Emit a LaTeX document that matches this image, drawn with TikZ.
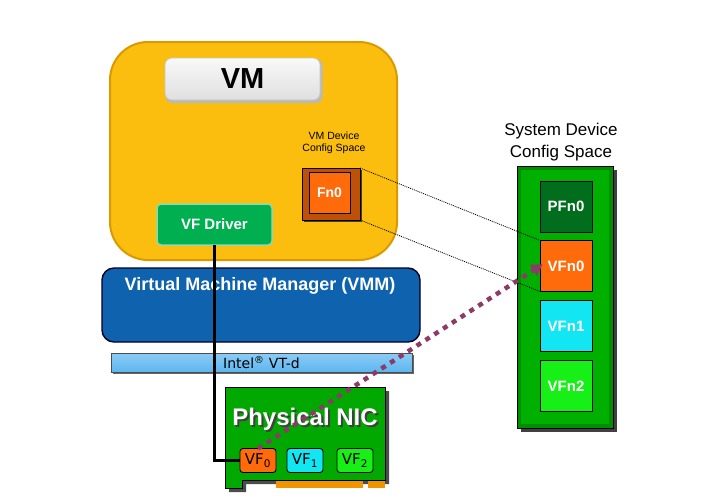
\documentclass[tikz,border=0pt]{standalone}
\usepackage{fontspec}
\setmainfont{Liberation Sans}
\newfontfamily\dv{DejaVu Sans}
\usetikzlibrary{arrows.meta,shadows}
\definecolor{vmyellow}{HTML}{FBBE0E}
\definecolor{vmedge}{HTML}{D99A00}
\definecolor{drvgreen}{HTML}{00B050}
\definecolor{fnorange}{HTML}{FF6A0A}
\definecolor{vmmblue}{HTML}{0E62AE}
\definecolor{vtdblue}{HTML}{5CB6F0}
\definecolor{nicgreen}{HTML}{00A800}
\definecolor{connorange}{HTML}{F09400}
\definecolor{colgreen}{HTML}{00B000}
\definecolor{pfgreen}{HTML}{006E1C}
\definecolor{vfcyan}{HTML}{12E6F2}
\definecolor{vflime}{HTML}{16F016}
\definecolor{arrowpurple}{HTML}{8C3A68}
\tikzset{
  box/.style={inner sep=0pt, outer sep=0pt},
  btn/.style={box, draw=black, line width=0.9pt, minimum width=52pt, minimum height=51pt,
     text=white, font=\fontsize{15}{15}\selectfont\bfseries},
  bevel/.style={box, draw=white, draw opacity=0.35, line width=1.5pt, minimum width=47pt, minimum height=46pt},
  vfbtn/.style={box, draw=black, line width=0.9pt, rounded corners=3pt, minimum width=36pt,
     minimum height=24pt, font=\dv\fontsize{15}{15}\selectfont},
  dotline/.style={line width=0.8pt, black, dash pattern=on 1pt off 1pt},
  drvline/.style={line width=2.4pt, black},
}
\begin{document}
\begin{tikzpicture}[x=1pt,y=-1pt]
\useasboundingbox (0,0) rectangle (703,499);
\fill[white] (0,0) rectangle (703,499);

% VM box
\node[box, fill=vmyellow, draw=vmedge, line width=2pt, rounded corners=38pt,
  minimum width=287pt, minimum height=218pt] (vm) at (253.5,151) {};
\node[box, fill=gray!55, rounded corners=7pt, minimum width=157pt, minimum height=44pt] at (244,81) {};
\node[box, top color=gray!5, bottom color=gray!25, draw=gray!45, line width=0.6pt, rounded corners=7pt,
  minimum width=155pt, minimum height=42pt, font=\fontsize{29}{29}\selectfont\bfseries] (vmlabel) at (242.5,79) {VM};

\node[box, align=center, font=\fontsize{10.5}{12.5}\selectfont] (vmdev) at (334,143) {VM Device\\Config Space};

% Fn0
\node[box, fill=black!75, minimum width=58pt, minimum height=52pt] at (333,196) {};
\node[box, fill=fnorange!75!black, draw=black, line width=1pt, minimum width=58pt, minimum height=52pt] (fn0) at (331,194) {};
\node[box, fill=fnorange, draw=black, line width=0.9pt, minimum width=41pt, minimum height=41pt,
  text=white, font=\fontsize{14}{14}\selectfont\bfseries] (fn0in) at (329.5,192.5) {Fn0};

% VF Driver
\node[box, fill=drvgreen, draw=drvgreen!45!white, line width=1.5pt, rounded corners=4pt,
  minimum width=115pt, minimum height=41pt, text=white, font=\fontsize{15}{15}\selectfont\bfseries]
  (vfdrv) at (214.5,224.5) {VF Driver};

% VMM
\node[box, fill=vmmblue, draw=black!85!blue, line width=1.4pt, rounded corners=12pt,
  minimum width=318pt, minimum height=74pt] (vmm) at (261,305) {};
\node[box, text=white, font=\fontsize{18}{18}\selectfont\bfseries] (vmmtxt) at (260,286) {Virtual Machine Manager (VMM)};

% VT-d
\node[box, fill=black!60, minimum width=301pt, minimum height=19pt] at (263.5,364.5) {};
\node[box, top color=vtdblue!70!white, bottom color=vtdblue, draw=black!70, line width=0.7pt,
  minimum width=301pt, minimum height=19pt, font=\dv\fontsize{14}{14}\selectfont]
  (vtd) at (261.5,362.5) {Intel\textsuperscript{\textregistered} VT-d};

% Physical NIC card
\fill[black!70] (229,391) -- (389,391) -- (389,484) -- (246,484) -- (246,492) -- (229,492) -- cycle;
\fill[connorange] (276,479) rectangle (363,488);
\fill[connorange] (368,479) rectangle (385,488);
\filldraw[fill=nicgreen, draw=black, line width=0.6pt]
  (225,387) -- (385,387) -- (385,480) -- (242,480) -- (242,488) -- (225,488) -- cycle;
\node[box, font=\fontsize{24}{24}\selectfont\bfseries] (nictxt) at (305,420)
  {\makebox[0pt][l]{\hspace{2pt}\raisebox{-2pt}{\color{black!75}Physical NIC}}\textcolor{white}{Physical NIC}};

\node[vfbtn, fill=fnorange] (vf0) at (258,460.5) {VF\textsubscript{0}};
\node[vfbtn, fill=vfcyan] (vf1) at (305,460.5) {VF\textsubscript{1}};
\node[vfbtn, fill=vflime] (vf2) at (355,460.5) {VF\textsubscript{2}};

% System device config space
\node[box, align=center, font=\fontsize{17}{22}\selectfont] (systxt) at (561,142) {System Device\\Config Space};
\node[box, fill=black!75, minimum width=96pt, minimum height=262pt] at (569,301) {};
\node[box, fill=colgreen!80!black, draw=black, line width=0.8pt, minimum width=96pt, minimum height=262pt] (col) at (565,297) {};
\node[box, fill=colgreen, minimum width=88pt, minimum height=254pt] at (565,297) {};
\node[btn, fill=pfgreen] (pfn0) at (566,206.5) {PFn0};
\node[btn, fill=fnorange] (vfn0) at (566,266) {VFn0};
\node[btn, fill=vfcyan] (vfn1) at (566,326) {VFn1};
\node[btn, fill=vflime] (vfn2) at (566,386) {VFn2};

% dotted mapping lines
\draw[dotline] (fn0.north east) -- (vfn0.north west);
\draw[dotline] (fn0.south east) -- (vfn0.south west);

% driver line
\coordinate (bend) at (vfdrv.south |- vf0.west);
\draw[drvline] (vfdrv.south) -- (bend) -- (vf0.west);

% purple dotted arrow
\draw[arrowpurple, line width=4.5pt, dash pattern=on 5pt off 5.5pt, shorten >=-3pt,
  -{Triangle[length=11pt,width=13pt]}] (vf0.north) -- (vfn0.west);
\end{tikzpicture}
\end{document}
